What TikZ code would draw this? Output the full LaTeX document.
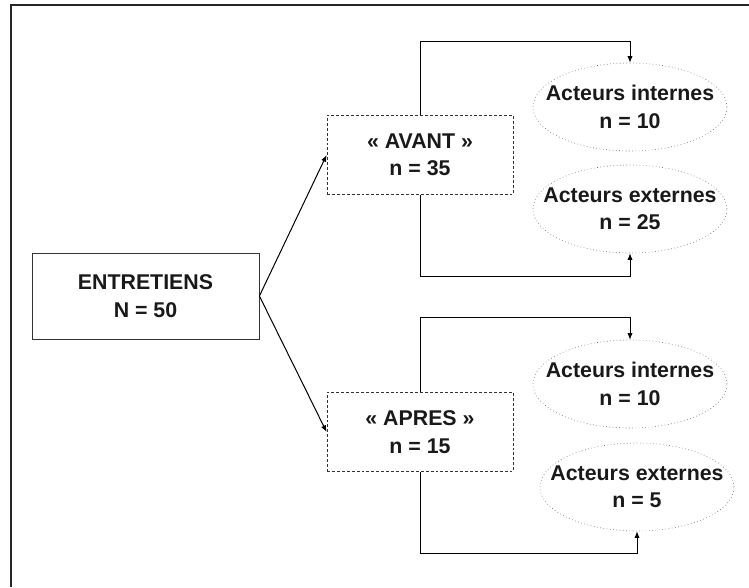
\documentclass[tikz,border=0pt]{standalone}
\usepackage{fontspec}
\setmainfont{Liberation Sans}
\usetikzlibrary{shapes.geometric,arrows.meta}
\begin{document}
\begin{tikzpicture}[x=0.75pt,y=-0.75pt,
  txt/.style={font=\fontsize{16}{20.5}\selectfont\bfseries, text=black!90, align=center, inner sep=0pt},
  mainbox/.style={txt, draw=black!80, line width=0.6pt, rectangle, minimum width=170.25pt, minimum height=64.5pt},
  phasebox/.style={txt, draw=black!80, line width=0.6pt, dashed, dash pattern=on 2.2pt off 1.5pt, rectangle, minimum width=139.5pt, minimum height=59.5pt},
  actor/.style={txt, ellipse, draw=black!65, line width=0.45pt, dotted, inner xsep=-20pt, inner ysep=-12pt, minimum width=145.5pt, minimum height=66pt},
  conn/.style={black, line width=0.75pt},
  arr/.style={conn, -{Latex[length=5pt,width=4pt]}}]
\useasboundingbox (0,0) rectangle (749,587);
\coordinate (frTL) at (11,5);
\coordinate (frTR) at (749,5);
\coordinate (frBL) at (11,587);
\draw[line width=1.3pt, black!85] (frTR) -- (frTL) -- (frBL);

\node[mainbox] (ent) at (145.5,296) {ENTRETIENS\\N = 50};
\node[phasebox] (avant) at (420,155) {« AVANT »\\n = 35};
\node[phasebox] (apres) at (420,432) {« APRES »\\n = 15};

\node[actor] (int1) at (630,107) {Acteurs internes\\n = 10};
\node[actor] (ext1) at (630,209) {Acteurs externes\\n = 25};
\node[actor] (int2) at (630,384) {Acteurs internes\\n = 10};
\node[actor] (ext2) at (637,487) {Acteurs externes\\n = 5};

\coordinate (t1) at (0,41);
\coordinate (b1) at (0,276);
\coordinate (t2) at (0,317);
\coordinate (b2) at (0,553);

\draw[arr] (ent.east) -- (avant.west);
\draw[arr] (ent.east) -- (apres.west);

\draw[arr] (avant.north) -- (avant.north |- t1) -| (int1.north);
\draw[arr] (avant.south) -- (avant.south |- b1) -| (ext1.south);
\draw[arr] (apres.north) -- (apres.north |- t2) -| (int2.north);
\draw[arr] (apres.south) -- (apres.south |- b2) -| (ext2.south);
\end{tikzpicture}
\end{document}
